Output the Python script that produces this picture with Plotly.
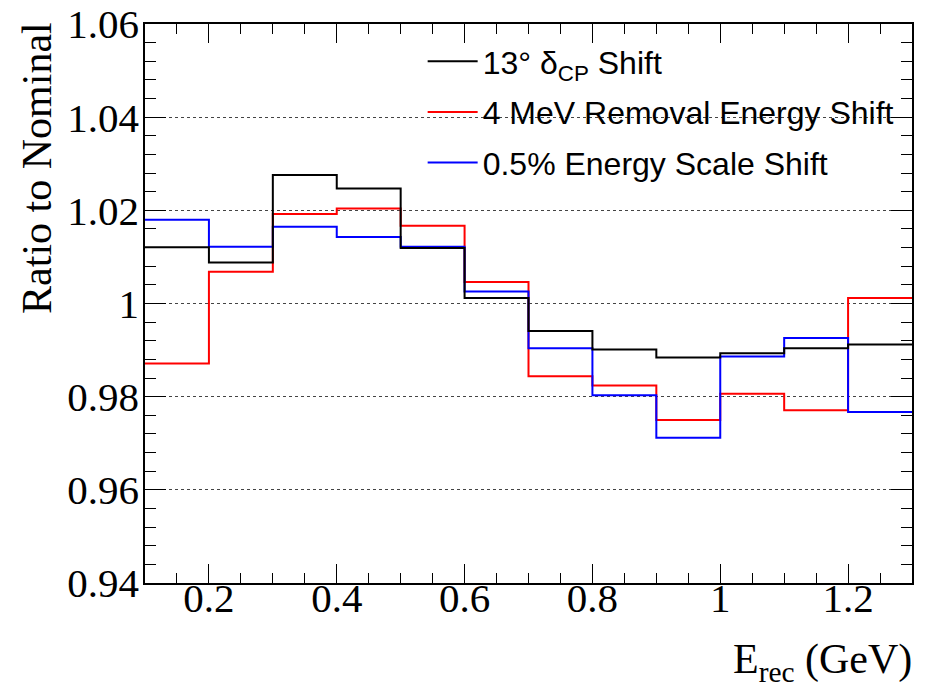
import plotly.graph_objects as go

# bin edges (GeV)
bin_edges = [0.1, 0.2, 0.3, 0.4, 0.5, 0.6, 0.7, 0.8, 0.9, 1.0, 1.1, 1.2, 1.3]

# ratio to nominal per bin
dcp_shift = [1.0121, 1.0088, 1.0276, 1.0247, 1.0119, 1.0012, 0.9941, 0.9901, 0.9884, 0.9893, 0.9904, 0.9912]
removal_shift = [0.9871, 1.0068, 1.0192, 1.0204, 1.0167, 1.0046, 0.9844, 0.9824, 0.9750, 0.9806, 0.9771, 1.0012]
escale_shift = [1.0180, 1.0122, 1.0165, 1.0143, 1.0122, 1.0026, 0.9904, 0.9803, 0.9712, 0.9886, 0.9926, 0.9767]

series_names = ["13° δ<sub>CP</sub> Shift", "4 MeV Removal Energy Shift", "0.5% Energy Scale Shift"]
series_colors = ["#000000", "#ff0000", "#0000ff"]

y_tickvals = [0.94, 0.96, 0.98, 1.0, 1.02, 1.04, 1.06]
y_ticktext = ["0.94", "0.96", "0.98", "1", "1.02", "1.04", "1.06"]
x_tickvals = [0.2, 0.4, 0.6, 0.8, 1.0, 1.2]
x_ticktext = ["0.2", "0.4", "0.6", "0.8", "1", "1.2"]

fig = go.Figure()
all_series = [dcp_shift, removal_shift, escale_shift]
draw_order = [1, 2, 0]
for i in draw_order:
    vals = all_series[i]
    fig.add_trace(go.Scatter(
        x=bin_edges,
        y=vals + [vals[-1]],
        mode="lines",
        line=dict(shape="hv", color=series_colors[i], width=2),
        name=series_names[i],
        legendrank=i + 1,
        legendgroup=str(i),
        hoverinfo="skip",
    ))

serif = "Liberation Serif, Times New Roman, serif"
sans = "Liberation Sans, Arial, sans-serif"

fig.update_layout(
    width=928, height=687,
    margin=dict(l=145, r=16, t=24, b=104),
    paper_bgcolor="white", plot_bgcolor="white",
    showlegend=True,
    legend=dict(
        x=0.362, y=0.982, xanchor="left", yanchor="top",
        bgcolor="rgba(0,0,0,0)", borderwidth=0,
        font=dict(family=sans, size=32, color="black"),
        itemwidth=50, tracegroupgap=6,
    ),
    xaxis=dict(
        range=[0.1, 1.3],
        tickvals=x_tickvals, ticktext=x_ticktext,
        ticks="inside", ticklen=19, tickwidth=1, tickcolor="black",
        minor=dict(dtick=0.05, tick0=0.1, ticks="inside", ticklen=10, tickcolor="black", showgrid=False),
        showline=True, linecolor="black", linewidth=1.5, mirror="allticks",
        showgrid=False, zeroline=False, automargin=False,
        tickfont=dict(family=serif, size=41, color="black"),
        ticklabelstandoff=-22,
    ),
    yaxis=dict(
        range=[0.94, 1.06],
        tickvals=y_tickvals, ticktext=y_ticktext,
        ticks="inside", ticklen=21, tickwidth=1, tickcolor="black",
        minor=dict(dtick=0.004, tick0=0.94, ticks="inside", ticklen=11, tickcolor="black", showgrid=False),
        showline=True, linecolor="black", linewidth=1.5, mirror="allticks",
        showgrid=True, gridcolor="#444444", gridwidth=1, griddash="dot",
        zeroline=False, automargin=False,
        tickfont=dict(family=serif, size=41, color="black"),
        ticklabelstandoff=-4,
    ),
    annotations=[
        dict(text="Ratio to Nominal", textangle=-90, xref="paper", yref="paper",
             x=-0.141, y=1.007, xanchor="center", yanchor="top", showarrow=False,
             font=dict(family=serif, size=42, color="black")),
        dict(text="E<sub>rec</sub> (GeV)", xref="paper", yref="paper",
             x=1.003, y=-0.092, xanchor="right", yanchor="top", showarrow=False,
             font=dict(family=serif, size=42, color="black")),
    ],
)

fig.write_html("out.html")
